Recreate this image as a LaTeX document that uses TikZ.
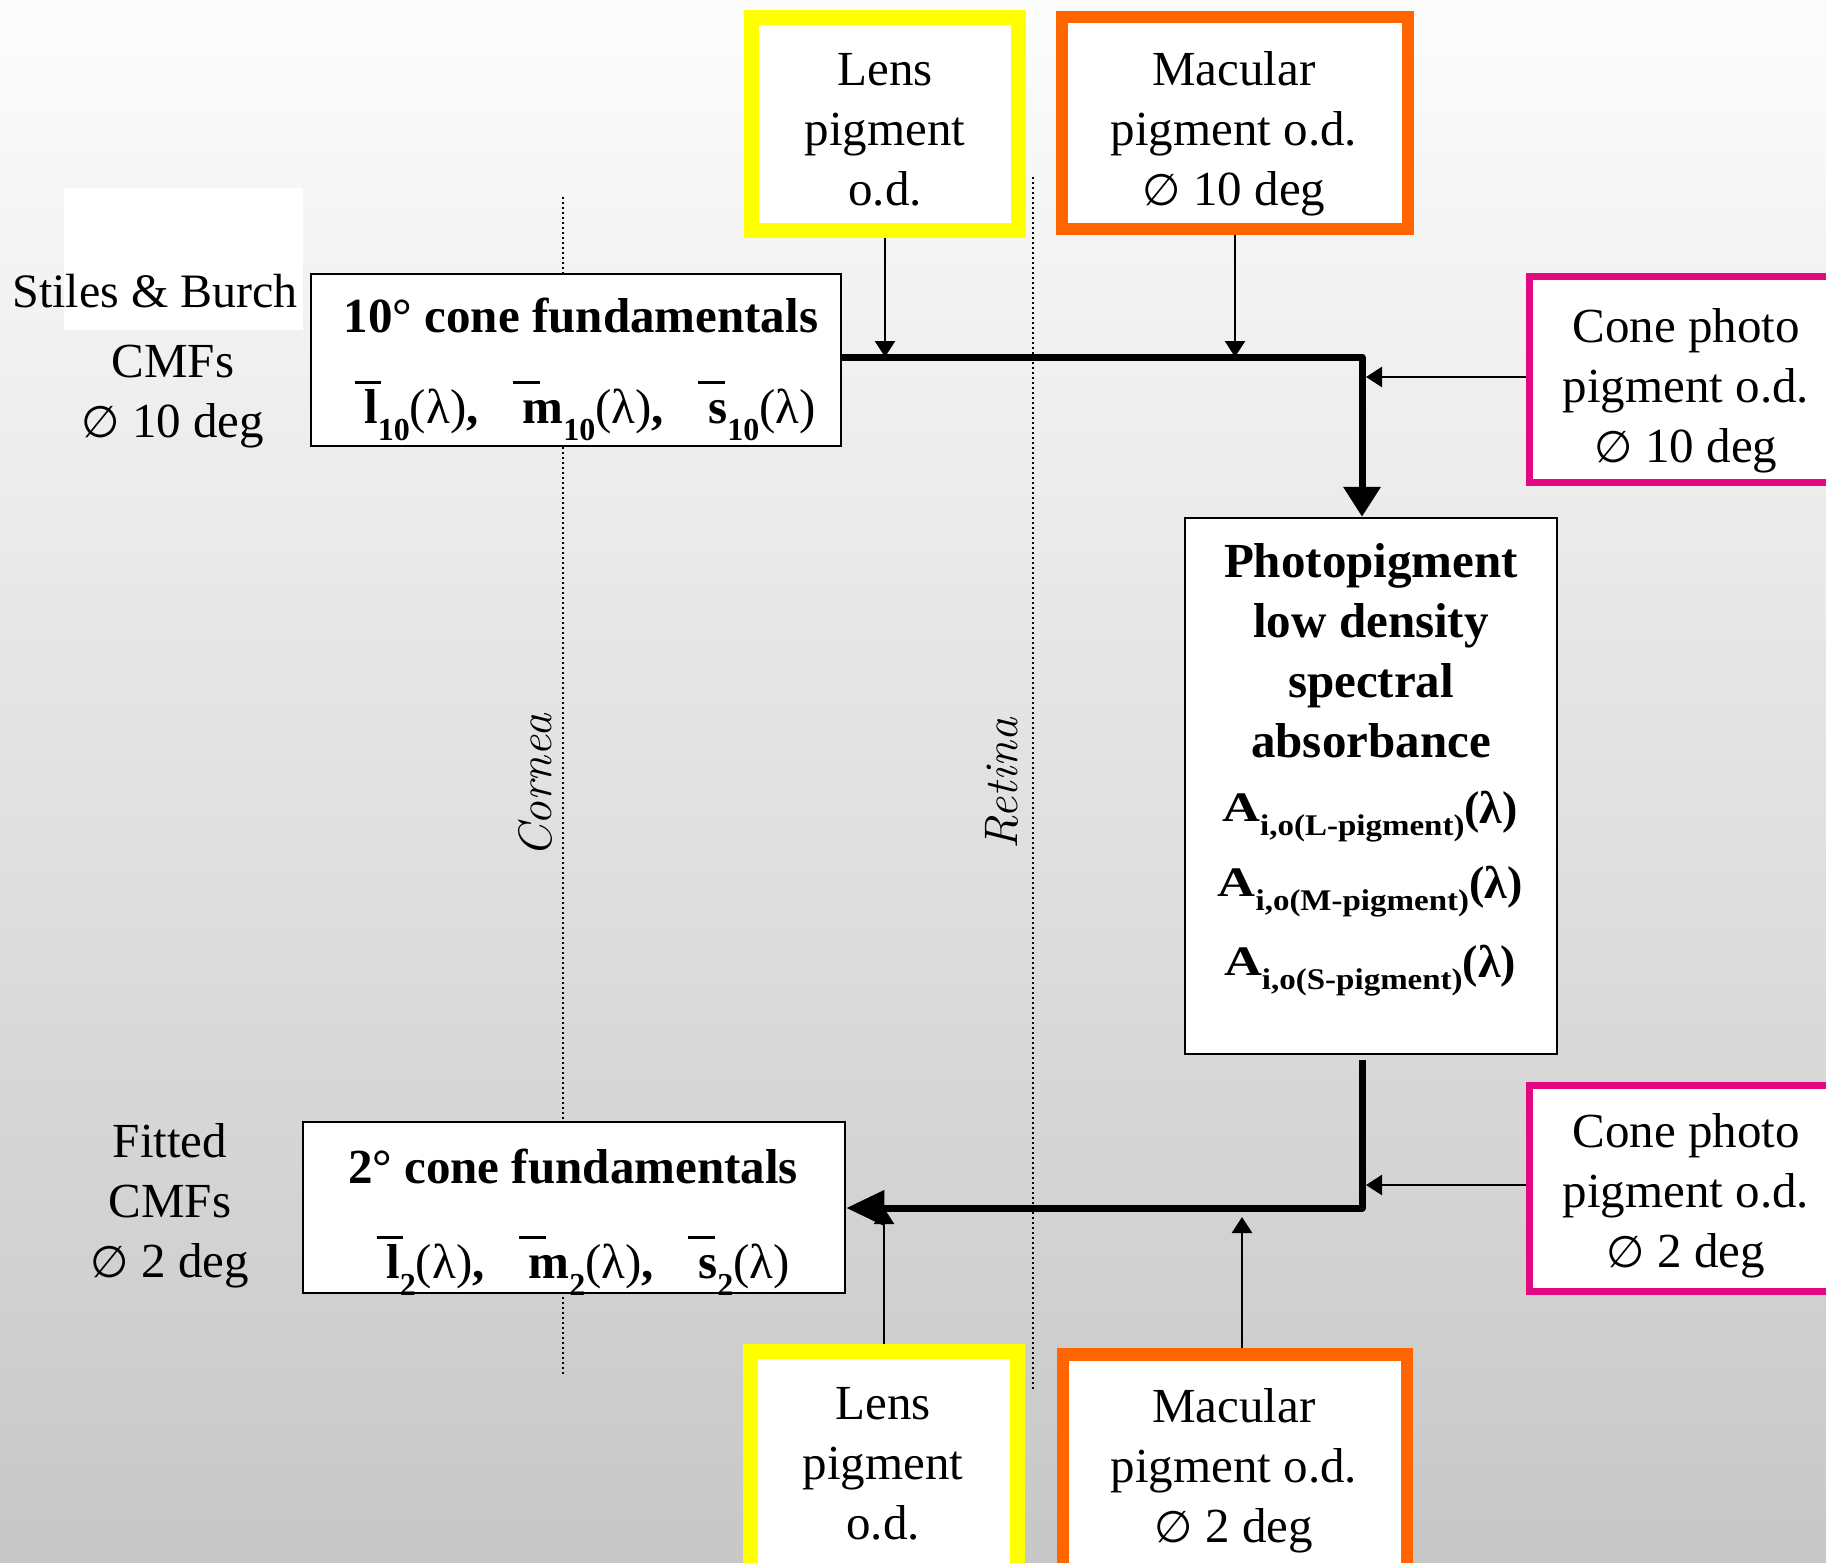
\documentclass[tikz,border=0pt]{standalone}
\usepackage{fontspec}
\usepackage{graphicx}
\setmainfont{Liberation Serif}
\newfontfamily\dvs{DejaVu Sans}
\usetikzlibrary{arrows.meta}
\definecolor{lensY}{RGB}{255,255,0}
\definecolor{macO}{RGB}{255,102,0}
\definecolor{coneM}{RGB}{226,8,128}
\newcommand\dia{{\dvs\fontsize{22}{30}\selectfont ∅}}
\newcommand\ovl[1]{\makebox[0pt][l]{\hspace{-0.2em}\rule[0.8em]{0.55em}{1.3pt}}#1}
\newcommand\sbx[1]{\raisebox{-8.5pt}{\fontsize{16}{16}\selectfont #1}}
\newcommand\lam{{\mdseries(λ)}}
\newcommand\Aline[1]{\scalebox{1.25}[1]{\fontsize{21}{21}\selectfont\bfseries A}\raisebox{-7pt}{\scalebox{1.1}[1]{\fontsize{15}{15}\selectfont\bfseries i,o(#1-pigment)}}\raisebox{-1pt}{\fontsize{23}{23}\selectfont\bfseries(λ)}}
\tikzset{
  txt/.style={font=\fontsize{24.5}{30}\selectfont, align=center, inner sep=0pt},
  btxt/.style={font=\bfseries\fontsize{24.5}{30}\selectfont, align=center, inner sep=0pt},
  boxB/.style={draw=black, fill=white, line width=1.25pt, inner sep=0pt},
  lensbox/.style={draw=lensY, fill=white, line width=7.5pt, inner sep=0pt},
  macbox/.style={draw=macO, fill=white, line width=6.25pt, inner sep=0pt},
  conebox/.style={draw=coneM, fill=white, line width=3.5pt, inner sep=0pt},
  conn/.style={line width=1.3pt, -{Triangle[length=8pt,width=10pt]}},
  fat/.style={line width=3.5pt, line join=round},
  dotline/.style={line width=1.1pt, dash pattern=on 1.1pt off 1.4pt},
  vlabel/.style={rotate=90, anchor=base, inner sep=0pt, font=\fontfamily{lmr}\itshape\fontsize{23.5}{23.5}\selectfont},
}
\begin{document}
\begin{tikzpicture}[x=0.5pt, y=-0.5pt]
\useasboundingbox (0,0) rectangle (1826,1563);
\clip (0,0) rectangle (1826,1563);
\shade[top color=black!1, bottom color=black!22] (0,0) rectangle (1826,1563);
\fill[white] (64,188) rectangle (303,330);

% dotted eye planes
\draw[dotline] (563,197) -- (563,1374);
\draw[dotline] (1033,177) -- (1033,1390);
\node[vlabel] (cornea) at (551,786) {Cornea};
\node[vlabel] (retina) at (1017,784) {Retina};

% boxes
\node[lensbox, minimum width=133.5pt, minimum height=106.5pt] (lensT) at (885,124) {};
\node[macbox, minimum width=173pt, minimum height=106pt] (macT) at (1235,123) {};
\node[boxB, minimum width=265pt, minimum height=86pt] (tenB) at (576,360) {};
\node[conebox, minimum width=165.25pt, minimum height=103pt] (cp1) at (1694.75,379.5) {};
\node[boxB, minimum width=186pt, minimum height=268pt] (photo) at (1371,786) {};
\node[boxB, minimum width=271pt, minimum height=85.5pt] (twoB) at (574,1207.5) {};
\node[conebox, minimum width=165.25pt, minimum height=103pt] (cp2) at (1694.75,1188.5) {};
\node[lensbox, minimum width=133.5pt, minimum height=124.25pt] (lensB) at (884,1475.75) {};
\node[macbox, minimum width=172pt, minimum height=122.75pt] (macB) at (1235,1477.25) {};

% texts
\node[txt, anchor=base, font=\fontsize{24}{30}\selectfont] (stiles) at (155,307) {Stiles \& Burch};
\node[txt, anchor=north] (stcmf) at (173,335) {\strut CMFs\\\dia{} 10 deg};
\node[txt, anchor=north] (fitted) at (170,1115) {\strut Fitted\\CMFs\\\dia{} 2 deg};
\node[txt, anchor=north] (lensTt) at (885,43) {\strut Lens\\pigment\\o.d.};
\node[txt, anchor=north] (macTt) at (1234,43) {\strut Macular\\pigment o.d.\\\dia{} 10 deg};
\node[txt, anchor=north] (cp1t) at (1686,300) {\strut Cone photo\\pigment o.d.\\\dia{} 10 deg};
\node[txt, anchor=north] (cp2t) at (1686,1105) {\strut Cone photo\\pigment o.d.\\\dia{} 2 deg};
\node[txt, anchor=north] (lensBt) at (883,1377) {\strut Lens\\pigment\\o.d.};
\node[txt, anchor=north] (macBt) at (1234,1380) {\strut Macular\\pigment o.d.\\\dia{} 2 deg};

\node[btxt, anchor=base] (tenT) at (581,332) {10° cone fundamentals};
\node[btxt, anchor=base] (tenF) at (590,423) {\ovl{l}\sbx{10}\lam,\hspace{0.9em}\ovl{m}\sbx{10}\lam,\hspace{0.9em}\ovl{s}\sbx{10}\lam};
\node[btxt, anchor=base] (twoT) at (573,1183) {2° cone fundamentals};
\node[btxt, anchor=base] (twoF) at (588,1278) {\ovl{l}\sbx{2}\lam,\hspace{0.9em}\ovl{m}\sbx{2}\lam,\hspace{0.9em}\ovl{s}\sbx{2}\lam};

\node[btxt, anchor=north] (photoT) at (1371,535) {\strut Photopigment\\low density\\spectral\\absorbance};
\node[anchor=base, inner sep=0pt] (aL) at (1370,821) {\Aline{L}};
\node[anchor=base, inner sep=0pt] (aM) at (1370,896) {\Aline{M}};
\node[anchor=base, inner sep=0pt] (aS) at (1370,975) {\Aline{S}};

% connectors
\coordinate (j1) at (1362,357);
\coordinate (j2top) at (1362,1060);
\coordinate (j2) at (1362,1208);
\coordinate (a1) at (1366,377);
\coordinate (a2) at (1366,1185);
\coordinate (m2) at (1242,1217);
\draw[fat, -{Triangle[length=15pt,width=18pt]}] (tenB.east |- j1) -- (j1) -- (j1 |- photo.north);
\draw[fat, -{Triangle[length=19pt,width=17pt]}] (j2top) -- (j2) -- (j2 -| twoB.east);
\draw[conn] (lensT.south) -- (lensT.south |- j1);
\draw[conn] (macT.south) -- (macT.south |- j1);
\draw[conn] (cp1.west |- a1) -- (a1);
\draw[conn] (cp2.west |- a2) -- (a2);
\draw[conn] (lensB.north) -- (lensB.north |- j2);
\draw[conn] (m2 |- macB.north) -- (m2);
\end{tikzpicture}
\end{document}
